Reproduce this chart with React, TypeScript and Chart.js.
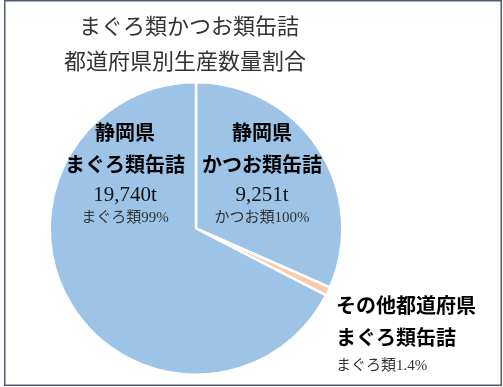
import React, { useEffect, useRef } from "react";
import { Chart, registerables } from "chart.js";

Chart.register(...registerables);

const categories = ["静岡県 かつお類缶詰", "その他都道府県 まぐろ類缶詰", "静岡県 まぐろ類缶詰"];
const values = [9251, 280, 19740];
const colors = ["#9DC3E6", "#F8CBAD", "#9DC3E6"];
const titleLines = ["まぐろ類かつお類缶詰", "都道府県別生産数量割合"];

const JP = '"Noto Sans CJK JP", "Noto Sans", sans-serif';
const MIX = '"Liberation Serif", "Noto Sans CJK JP", serif';

const textPlugin = {
  id: "texts",
  afterDraw(chart: any) {
    const ctx = chart.ctx as CanvasRenderingContext2D;
    const arcs = chart.getDatasetMeta(0).data;
    const cx = arcs[0].x;
    const cy = arcs[0].y;
    ctx.save();
    // frame
    ctx.strokeStyle = "#4F5B78";
    ctx.lineWidth = 1.5;
    ctx.strokeRect(4.75, 0.75, 496.5, 384.5);

    // title
    ctx.fillStyle = "#333333";
    ctx.textAlign = "center";
    ctx.textBaseline = "middle";
    ctx.font = `400 22px ${JP}`;
    ctx.fillText(titleLines[0], cx - 7, 26);
    ctx.fillText(titleLines[1], cx - 11, 61);

    ctx.fillStyle = "#000000";
    const block = (x: number, lines: [string, string, number, string][], align: CanvasTextAlign) => {
      ctx.textAlign = align;
      for (const [t, font, y, color] of lines) {
        ctx.font = font;
        ctx.fillStyle = color;
        ctx.fillText(t, x, y);
      }
    };
    // Shizuoka tuna (left)
    block(cx - 71, [
      ["静岡県", `700 20px ${JP}`, cy - 96, "#000"],
      ["まぐろ類缶詰", `700 20px ${JP}`, cy - 64, "#000"],
      [`${values[2].toLocaleString("en-US")}t`, `400 21px ${MIX}`, cy - 33, "#111"],
      ["まぐろ類99%", `400 15px ${MIX}`, cy - 10, "#333"],
    ], "center");
    // Shizuoka katsuo (right)
    block(cx + 66, [
      ["静岡県", `700 20px ${JP}`, cy - 96, "#000"],
      ["かつお類缶詰", `700 20px ${JP}`, cy - 64, "#000"],
      [`${values[0].toLocaleString("en-US")}t`, `400 21px ${MIX}`, cy - 33, "#111"],
      ["かつお類100%", `400 15px ${MIX}`, cy - 10, "#333"],
    ], "center");
    // Others
    block(cx + 140, [
      ["その他都道府県", `700 20px ${JP}`, cy + 77, "#000"],
      ["まぐろ類缶詰", `700 20px ${JP}`, cy + 109, "#000"],
      ["まぐろ類1.4%", `400 15px ${MIX}`, cy + 138, "#333"],
    ], "left");
    ctx.restore();
  },
};

export default function App() {
  const ref = useRef<HTMLCanvasElement | null>(null);
  useEffect(() => {
    if (!ref.current) return;
    const chart = new Chart(ref.current, {
      type: "pie",
      data: {
        labels: categories,
        datasets: [
          {
            data: values,
            backgroundColor: colors,
            borderColor: "#FFFFFF",
            borderWidth: 2.5,
          },
        ],
      },
      options: {
        animation: false,
        responsive: true,
        maintainAspectRatio: false,
        layout: { padding: { top: 81, bottom: 11, left: 48.5, right: 159.5 } },
        plugins: {
          legend: { display: false },
          title: { display: false },
          tooltip: { enabled: false },
        },
      },
      plugins: [textPlugin],
    });
    return () => chart.destroy();
  }, []);
  return (
    <div style={{ position: "fixed", left: 0, top: 0, width: 503, height: 387, background: "#fff" }}>
      <canvas ref={ref} width={503} height={387} />
    </div>
  );
}
